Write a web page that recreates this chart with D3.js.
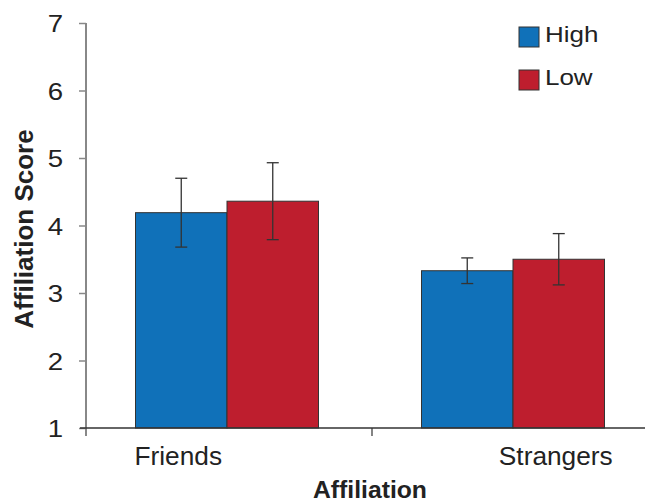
<!DOCTYPE html>
<html><head><meta charset="utf-8">
<script src="https://cdn.jsdelivr.net/npm/d3@7"></script>
<style>
html,body{margin:0;padding:0;background:#fff;}
svg{display:block;}
text{font-family:"Liberation Sans",Arial,Helvetica,sans-serif;fill:#222;}
</style></head>
<body>
<svg id="chart" width="645" height="503"></svg>
<script>
const categories = ["Friends", "Strangers"];
const series = ["High", "Low"];
const meanHigh = [4.19, 3.33];
const meanLow = [4.36, 3.50];
const seHigh = [0.51, 0.19];
const seLow = [0.57, 0.38];
const labelSeries = ["High", "Low"]; // bar under which each category label sits
const yTicks = [1, 2, 3, 4, 5, 6, 7];
const colors = ["#1071b9", "#be1e2e"];

const means = [meanHigh, meanLow];
const ses = [seHigh, seLow];

const svg = d3.select("#chart");
const y = d3.scaleLinear().domain([1, 7]).range([428, 23]);
const x = d3.scaleBand().domain(categories).range([86, 658]);
const xi = d3.scaleBand().domain(series).range([49.5, 232.5]);

// bars
series.forEach((s, si) => {
  svg.append("g").selectAll("rect").data(categories).join("rect")
    .attr("x", c => x(c) + xi(s))
    .attr("y", (c, i) => y(means[si][i]))
    .attr("width", xi.bandwidth())
    .attr("height", (c, i) => y(1) - y(means[si][i]))
    .attr("fill", colors[si])
    .attr("stroke", "#333").attr("stroke-width", 1);
});

// error bars
series.forEach((s, si) => {
  const g = svg.append("g").attr("stroke", "#333").attr("stroke-width", 1.3);
  categories.forEach((c, i) => {
    const cx = x(c) + xi(s) + xi.bandwidth() / 2;
    const hi = y(means[si][i] + ses[si][i]), lo = y(means[si][i] - ses[si][i]);
    g.append("line").attr("x1", cx).attr("x2", cx).attr("y1", hi).attr("y2", lo);
    g.append("line").attr("x1", cx - 6).attr("x2", cx + 6).attr("y1", hi).attr("y2", hi);
    g.append("line").attr("x1", cx - 6).attr("x2", cx + 6).attr("y1", lo).attr("y2", lo);
  });
});

// y axis
const yAxis = svg.append("g").attr("transform", "translate(86,0)")
  .call(d3.axisLeft(y).tickValues(yTicks).tickFormat(d3.format("d")).tickSize(7).tickPadding(13));
yAxis.select(".domain").remove();
yAxis.selectAll(".tick line").attr("stroke", "#888").attr("stroke-width", 1.5);
yAxis.selectAll(".tick text").attr("font-size", 24).attr("fill", "#222")
  .attr("transform", "scale(1.15,1)").attr("dy", "0.36em");
yAxis.append("line").attr("x1", 0).attr("x2", 0).attr("y1", y(7)).attr("y2", y(1) + 8)
  .attr("stroke", "#888").attr("stroke-width", 2);

// x axis
svg.append("line").attr("x1", 80).attr("x2", 645).attr("y1", y(1)).attr("y2", y(1))
  .attr("stroke", "#333").attr("stroke-width", 1.3);
svg.append("line").attr("x1", x(categories[1])).attr("x2", x(categories[1]))
  .attr("y1", y(1)).attr("y2", y(1) + 8).attr("stroke", "#333").attr("stroke-width", 1.2);

// category labels
svg.append("g").selectAll("text").data(categories).join("text")
  .attr("transform", (c, i) => `translate(${x(c) + xi(labelSeries[i]) + xi.bandwidth() / 2 - 3},465) scale(1.05,1)`)
  .attr("text-anchor", "middle").attr("font-size", 25).text(c => c);

// axis titles
svg.append("text").attr("transform", "translate(370,498) scale(1.03,1)")
  .attr("text-anchor", "middle").attr("font-size", 24).attr("font-weight", "bold").text("Affiliation");
svg.append("text").attr("transform", "translate(33,229) rotate(-90)")
  .attr("text-anchor", "middle").attr("font-size", 26).attr("font-weight", "bold").text("Affiliation Score");

// legend
const leg = svg.append("g").selectAll("g").data(series).join("g")
  .attr("transform", (s, i) => `translate(519,${27 + i * 43})`);
leg.append("rect").attr("width", 20).attr("height", 20)
  .attr("fill", (s, i) => colors[i]).attr("stroke", "#333").attr("stroke-width", 1);
leg.append("text").attr("transform", "translate(26,15) scale(1.18,1)")
  .attr("font-size", 22).text(s => s);
</script>
</body></html>
